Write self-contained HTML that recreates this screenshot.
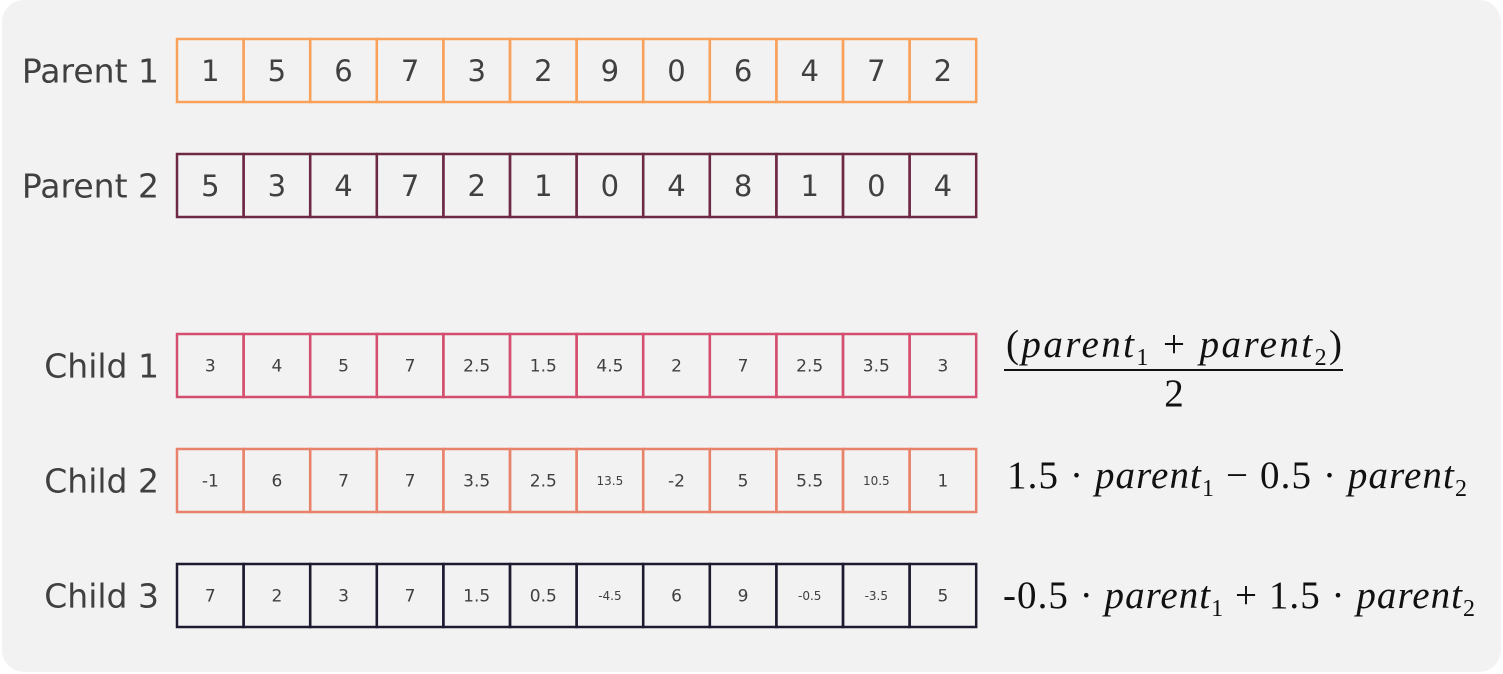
<!DOCTYPE html>
<html><head><meta charset="utf-8"><style>
html,body{margin:0;padding:0;background:#fff;}
svg{display:block;}
.lbl{font-family:"DejaVu Sans","Liberation Sans",sans-serif;font-size:33px;fill:#404040;}
.num{font-family:"DejaVu Sans","Liberation Sans",sans-serif;fill:#404040;}
.f{font-family:"Liberation Serif",serif;font-size:39px;fill:#111;}
</style></head><body>
<svg id="chart" width="1503" height="674" viewBox="0 0 1503 674">
<rect x="2" y="0" width="1499" height="672" rx="22" fill="#f2f2f2"/>
<g id="rows"></g>
<g>
<text class="f" x="1006" y="357" textLength="336" lengthAdjust="spacing"><tspan>(</tspan><tspan font-style="italic">parent</tspan><tspan font-size="24" dy="8">1</tspan><tspan dy="-8"> + </tspan><tspan font-style="italic">parent</tspan><tspan font-size="24" dy="8">2</tspan><tspan dy="-8">)</tspan></text>
<line x1="1004" y1="370" x2="1343" y2="370" stroke="#111" stroke-width="2"/>
<text class="f" x="1174" y="406" text-anchor="middle">2</text>
</g>
<text class="f" x="1007" y="488" textLength="460" lengthAdjust="spacing">1.5 · <tspan font-style="italic">parent</tspan><tspan font-size="24" dy="8">1</tspan><tspan dy="-8"> − 0.5 · </tspan><tspan font-style="italic">parent</tspan><tspan font-size="24" dy="8">2</tspan></text>
<text class="f" x="1003" y="608" textLength="472" lengthAdjust="spacing">-0.5 · <tspan font-style="italic">parent</tspan><tspan font-size="24" dy="8">1</tspan><tspan dy="-8"> + 1.5 · </tspan><tspan font-style="italic">parent</tspan><tspan font-size="24" dy="8">2</tspan></text>
</svg>
<script>
const rowLabels = ["Parent 1","Parent 2","Child 1","Child 2","Child 3"];
const parent1 = ["1","5","6","7","3","2","9","0","6","4","7","2"];
const parent2 = ["5","3","4","7","2","1","0","4","8","1","0","4"];
const child1 = ["3","4","5","7","2.5","1.5","4.5","2","7","2.5","3.5","3"];
const child2 = ["-1","6","7","7","3.5","2.5","13.5","-2","5","5.5","10.5","1"];
const child3 = ["7","2","3","7","1.5","0.5","-4.5","6","9","-0.5","-3.5","5"];
const rowsData = [parent1,parent2,child1,child2,child3];
const colors = ["#f9a05a","#6e2a45","#d44f6f","#e8826a","#1c1b30"];
const tops = [39,154,334,449,564];
const ns="http://www.w3.org/2000/svg";
const g=document.getElementById('rows');
const x0=177,cw=66.6,h=63;
rowsData.forEach((vals,r)=>{
  const y=tops[r], isParent=r<2;
  const lab=document.createElementNS(ns,'text');
  lab.setAttribute('class','lbl');lab.setAttribute('x',159);lab.setAttribute('y',y+h/2+12);lab.setAttribute('text-anchor','end');
  lab.textContent=rowLabels[r];
  
  
  g.appendChild(lab);
  vals.forEach((v,i)=>{
    const rc=document.createElementNS(ns,'rect');
    rc.setAttribute('x',x0+i*cw);rc.setAttribute('y',y);rc.setAttribute('width',cw);rc.setAttribute('height',h);
    rc.setAttribute('fill','none');rc.setAttribute('stroke',colors[r]);rc.setAttribute('stroke-width',2.5);
    
    
    g.appendChild(rc);
    const t=document.createElementNS(ns,'text');
    let fs=isParent?29:(v.length>=4?12:17);
    t.setAttribute('class','num');t.setAttribute('font-size',fs);
    t.setAttribute('x',x0+i*cw+cw/2);t.setAttribute('y',y+h/2+fs*0.36);t.setAttribute('text-anchor','middle');
    t.textContent=v;
    
    
    g.appendChild(t);
  });
});
</script>
</body></html>
